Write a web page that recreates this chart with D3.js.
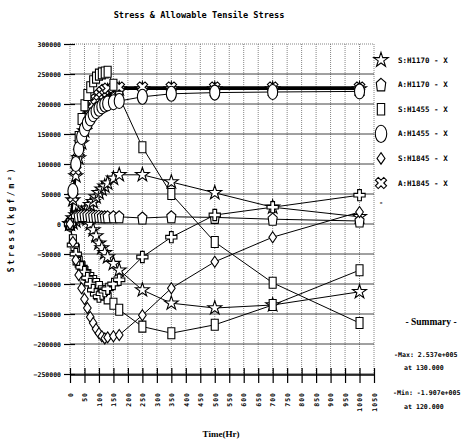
<!DOCTYPE html>
<html>
<head>
<meta charset="utf-8">
<script src="https://cdn.jsdelivr.net/npm/d3@7"></script>
<style>
  body { margin: 0; background: #fff; }
  text { font-family: "DejaVu Sans Mono", monospace; font-weight: bold; fill: #000; }
</style>
</head>
<body>
<div id="chart"></div>
<script>
// time steps (hours)
var hours = [0, 10, 20, 30, 40, 50, 60, 70, 80, 90, 100, 110, 120, 130, 150, 170, 250, 350, 500, 700, 1000];

// series (kgf/m2)
var s1170 = [0, 2000, 5000, 10000, 15000, 20000, 26000, 32000, 37000, 45000, 52000, 58000, 63000, 68000, 76000, 82000, 82000, 70000, 52000, 28000, 12000];
var a1170 = [0, 8000, 12000, 13000, 14000, 14000, 14000, 13000, 13000, 13000, 13000, 12000, 12000, 12000, 12000, 12000, 10000, 12000, 11000, 8000, 5000];
var s1455 = [0, 53000, 105000, 145000, 175000, 198000, 215000, 228000, 238000, 244000, 249000, 251000, 252500, 253700, 232000, 212000, 128000, 50000, -30000, -98000, -165000];
var a1455 = [0, 55000, 100000, 125000, 145000, 158000, 168000, 176000, 183000, 188000, 192000, 196000, 199000, 201000, 203000, 205000, 212000, 217000, 219000, 220000, 221000];
var s1845 = [0, -30000, -60000, -85000, -107000, -125000, -140000, -155000, -165000, -175000, -182000, -187000, -190700, -189000, -187000, -185000, -152000, -107000, -63000, -22000, 20000];
var a1845 = [0, 45000, 90000, 120000, 145000, 163000, 178000, 190000, 200000, 208000, 215000, 220000, 224000, 226000, 227000, 228000, 228000, 228000, 228000, 228000, 228000];
// other curves drawn on the chart but not named in the legend
var starLow = [0, 10000, 15000, 18000, 18000, 15000, 8000, 0, -10000, -20000, -32000, -40000, -48000, -55000, -66000, -77000, -110000, -132000, -140000, -135000, -113000];
var rectLow = [0, -27000, -43000, -63000, -72000, -80000, -85000, -90000, -95000, -100000, -105000, -112000, -118000, -124000, -133000, -143000, -171000, -182000, -168000, -135000, -77000];
var plusLine = [0, -35000, -50000, -65000, -72000, -80000, -90000, -100000, -110000, -117000, -121000, -116000, -112000, -108000, -100000, -93000, -55000, -22000, 15000, 28000, 48000];
var topStar = [0, 40000, 80000, 110000, 135000, 155000, 170000, 185000, 196000, 204000, 210000, 216000, 220000, 222000, 224000, 225000, 225000, 225000, 225000, 225000, 225000];

var legendNames = ["S:H1170 - X", "A:H1170 - X", "S:H1455 - X", "A:H1455 - X", "S:H1845 - X", "A:H1845 - X"];
var legendMarks = ["star", "pentagon", "rect", "ellipse", "diamond", "xcross"];

var xTicks = d3.range(0, 1051, 50);
var yTicks = d3.range(-250000, 300001, 50000);

var summary = ["-Max: 2.537e+005", "at 130.000", "-Min: -1.907e+005", "at 120.000"];

var series = [
    { values: topStar, mark: "star" },
    { values: a1845, mark: "xcross" },
    { values: s1455, mark: "rect" },
    { values: a1455, mark: "ellipse" },
    { values: s1170, mark: "star" },
    { values: starLow, mark: "star" },
    { values: a1170, mark: "pentagon" },
    { values: rectLow, mark: "rect" },
    { values: plusLine, mark: "plus" },
    { values: s1845, mark: "diamond" }
];

function markPath(tipo, s) {
    s = s || 1;
    if (tipo == "star") {
        return d3.symbol(d3.symbolStar, 60 * s * s)();
    }
    if (tipo == "plus") {
        return d3.symbol(d3.symbolCross, 70 * s * s)();
    }
    if (tipo == "xcross") {
        return d3.symbol(d3.symbolCross, 70 * s * s)();
    }
    if (tipo == "pentagon") {
        return "M0," + (-6 * s) + "L" + (4.5 * s) + "," + (-2 * s) + "L" + (3.5 * s) + "," + (6 * s) +
            "L" + (-3.5 * s) + "," + (6 * s) + "L" + (-4.5 * s) + "," + (-2 * s) + "Z";
    }
    if (tipo == "rect") {
        return "M" + (-3.5 * s) + "," + (-5.5 * s) + "h" + (7 * s) + "v" + (11 * s) + "h" + (-7 * s) + "Z";
    }
    if (tipo == "ellipse") {
        var rx = 5 * s, ry = 7.5 * s;
        return "M" + (-rx) + ",0a" + rx + "," + ry + " 0 1,0 " + (2 * rx) + ",0a" + rx + "," + ry + " 0 1,0 " + (-2 * rx) + ",0";
    }
    if (tipo == "diamond") {
        return "M0," + (-5.5 * s) + "L" + (3.8 * s) + ",0L0," + (5.5 * s) + "L" + (-3.8 * s) + ",0Z";
    }
    return "";
}

var width = 463, height = 442;

var svg = d3.select("#chart").append("svg")
    .attr("width", width)
    .attr("height", height);

var x = d3.scaleLinear().domain([0, 1050]).range([70, 374]);
var y = d3.scaleLinear().domain([-250000, 300000]).range([374, 44]);

// grid
svg.append("g").selectAll("line")
    .data(xTicks)
    .enter().append("line")
    .attr("x1", function (d) { return x(d); })
    .attr("x2", function (d) { return x(d); })
    .attr("y1", y(300000)).attr("y2", y(-250000))
    .attr("stroke", "#777")
    .attr("stroke-dasharray", "1,1")
    .attr("stroke-width", 0.9);

svg.append("g").selectAll("line")
    .data(yTicks)
    .enter().append("line")
    .attr("x1", x(0)).attr("x2", x(1050))
    .attr("y1", function (d) { return y(d); })
    .attr("y2", function (d) { return y(d); })
    .attr("stroke", function (d) { return d == 300000 ? "#666" : "#111"; })
    .attr("stroke-dasharray", function (d) { return d == 300000 ? "1,1" : null; })
    .attr("stroke-width", 0.8);

// axes
var yAxis = d3.axisLeft(y).tickValues(yTicks).tickSize(6).tickPadding(4).tickFormat(d3.format("d"));
var gy = svg.append("g").attr("transform", "translate(" + (x(0) + 5) + ",0)").call(yAxis);
gy.select(".domain").remove();
gy.selectAll(".tick line").attr("x2", -11).attr("stroke-width", 1.2);
gy.selectAll(".tick text").attr("x", -14).style("font-size", "6.5px").style("font-family", "'DejaVu Sans Mono', monospace").style("font-weight", "bold");

var xAxis = d3.axisBottom(x).tickValues(xTicks).tickSize(8).tickFormat(d3.format("d"));
var gx = svg.append("g").attr("transform", "translate(0," + (y(-250000) + 1) + ")").call(xAxis);
gx.select(".domain").attr("d", "M" + x(0) + ",0H" + x(1050)).attr("stroke-width", 1.3);
gx.selectAll(".tick line").attr("y1", -7).attr("stroke-width", 1.2);
gx.selectAll(".tick text")
    .attr("transform", "rotate(-90)")
    .attr("x", -17).attr("y", 0).attr("dy", "0.35em")
    .attr("text-anchor", "end")
    .style("font-size", "6.5px")
    .style("letter-spacing", "1px")
    .style("font-family", "'DejaVu Sans Mono', monospace")
    .style("font-weight", "bold");

// lines
var linea = d3.line()
    .x(function (d) { return x(d[0]); })
    .y(function (d) { return y(d[1]); });

series.forEach(function (s) {
    var pts = hours.map(function (h, i) { return [h, s.values[i]]; });
    svg.append("path")
        .datum(pts)
        .attr("d", linea)
        .attr("fill", "none")
        .attr("stroke", "#000")
        .attr("stroke-width", s.values === topStar || s.values === a1845 ? 2 : 1);
});

// markers
series.forEach(function (s) {
    svg.append("g").selectAll("path")
        .data(hours.map(function (h, i) { return [h, s.values[i]]; }))
        .enter().append("path")
        .attr("d", markPath(s.mark))
        .attr("transform", function (d) {
            return "translate(" + x(d[0]) + "," + y(d[1]) + ")" + (s.mark == "xcross" ? " rotate(45)" : "");
        })
        .attr("fill", "#fff")
        .attr("stroke", "#000")
        .attr("stroke-width", 1.1);
});

// title
svg.append("text")
    .attr("x", 199).attr("y", 18)
    .attr("text-anchor", "middle")
    .style("font-size", "8.6px")
    .text("Stress & Allowable Tensile Stress");

// axis titles
svg.append("text")
    .attr("transform", "translate(14,219) rotate(-90)")
    .attr("text-anchor", "middle")
    .style("font-size", "8px")
    .style("letter-spacing", "2.8px")
    .text("Stress(kgf/m²)");

svg.append("text")
    .attr("x", 221).attr("y", 437)
    .attr("text-anchor", "middle")
    .style("font-family", "'Liberation Serif', serif")
    .style("font-size", "9px")
    .text("Time(Hr)");

// legend
var leg = svg.append("g");
legendNames.forEach(function (n, i) {
    var ly = 60 + i * 24.6;
    leg.append("path")
        .attr("d", markPath(legendMarks[i], legendMarks[i] == "ellipse" ? 1.15 : 1.05))
        .attr("transform", "translate(381," + ly + ")" + (legendMarks[i] == "xcross" ? " rotate(45)" : ""))
        .attr("fill", "#fff")
        .attr("stroke", "#000")
        .attr("stroke-width", 1.1);
    leg.append("text")
        .attr("x", 398).attr("y", ly + 2.5)
        .style("font-size", "7.5px")
        .text(n);
});
leg.append("text")
    .attr("x", 379).attr("y", 205)
    .style("font-size", "7px")
    .text("-");

// summary
svg.append("text")
    .attr("x", 431).attr("y", 325)
    .attr("text-anchor", "middle")
    .style("font-family", "'Liberation Serif', serif")
    .style("font-size", "9.5px")
    .text("- Summary -");

var sumPos = [[394, 357], [404, 370], [393, 395], [404, 409]];
summary.forEach(function (t, i) {
    svg.append("text")
        .attr("x", sumPos[i][0]).attr("y", sumPos[i][1])
        .style("font-size", "6.6px")
        .text(t);
});
</script>
</body>
</html>
